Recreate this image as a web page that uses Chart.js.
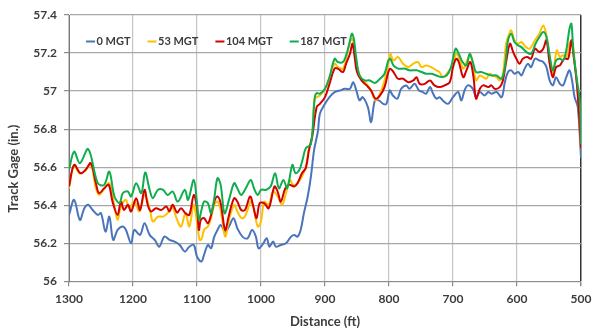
<!DOCTYPE html>
<html><head><meta charset="utf-8">
<script src="https://cdn.jsdelivr.net/npm/chart.js@4.4.1/dist/chart.umd.min.js"></script>
<style>html,body{margin:0;padding:0;background:#fff;}#wrap{width:592px;height:330px;position:relative;}</style>
</head><body><div id="wrap"><canvas id="c"></canvas></div>
<script>
// Series labels
const seriesLabels = ['0 MGT', '53 MGT', '104 MGT', '187 MGT'];
// X tick values (ft) and Y tick values (in.)
const xTicks = [1300, 1200, 1100, 1000, 900, 800, 700, 600, 500];
const yTicks = [56, 56.2, 56.4, 56.6, 56.8, 57, 57.2, 57.4];

// 0 MGT
const dist0 = [1300,1292,1283,1276,1270,1263,1255,1250,1243,1237,1231,1224,1216,1211,1203,1198,1189,1182,1174,1166,1159,1151,1143,1135,1127,1119,1112,1105,1100,1093,1089,1083,1078,1073,1068,1063,1056,1050,1043,1037,1029,1021,1014,1008,1004,998,991,987,981,977,969,961,953,948,943,938,933,927,922,917,911,908,900,893,885,877,869,861,856,851,846,841,833,828,822,816,809,804,799,794,787,781,773,768,760,753,747,742,736,731,726,721,716,708,700,692,687,682,677,669,664,658,651,645,640,632,624,619,614,609,604,598,593,588,583,578,572,565,559,554,549,544,539,533,528,523,518,514,510,505,500];
const gage0 = [56.349,56.428,56.323,56.384,56.402,56.375,56.349,56.358,56.261,56.34,56.218,56.27,56.288,56.27,56.2,56.27,56.244,56.305,56.244,56.218,56.182,56.235,56.218,56.209,56.191,56.156,56.182,56.191,56.13,56.104,56.139,56.191,56.174,56.235,56.27,56.296,56.261,56.288,56.332,56.279,56.235,56.226,56.27,56.235,56.174,56.191,56.226,56.182,56.209,56.182,56.191,56.2,56.235,56.244,56.235,56.27,56.358,56.446,56.551,56.691,56.79,56.881,56.933,56.968,56.995,57.003,57.012,57.012,57.047,57.003,56.951,56.968,56.916,56.837,56.951,56.951,56.933,56.933,57.003,56.977,56.96,57.012,57.03,57.012,57.038,57.003,56.995,56.986,57.021,56.986,56.96,56.968,56.951,56.933,56.968,56.995,56.951,57.003,57.03,57.012,56.968,56.995,56.977,56.995,56.986,56.995,56.968,57.047,57.1,57.109,57.091,57.1,57.082,57.118,57.144,57.126,57.17,57.161,57.153,57.126,57.056,57.03,57.073,57.038,57.03,57.073,57.109,57.056,56.968,56.916,56.65];

// 53 MGT
const dist53 = [1300,1292,1284,1276,1266,1258,1253,1248,1237,1229,1224,1219,1211,1206,1198,1190,1182,1174,1169,1161,1153,1146,1139,1132,1125,1118,1112,1105,1096,1093,1089,1083,1078,1073,1068,1063,1056,1050,1042,1037,1030,1024,1016,1011,1005,1000,995,988,981,974,967,961,955,950,943,936,930,925,920,916,908,900,893,885,880,872,867,861,857,854,850,843,835,828,821,814,807,801,798,793,786,778,770,762,755,749,742,734,726,721,716,708,701,695,690,684,679,673,668,664,658,653,648,643,638,632,627,622,617,613,609,604,598,593,586,580,572,565,559,554,549,544,538,533,528,523,518,514,510,505,500];
const gage53 = [56.489,56.612,56.568,56.577,56.612,56.489,56.454,56.472,56.516,56.393,56.323,56.393,56.428,56.384,56.419,56.367,56.454,56.384,56.314,56.34,56.34,56.358,56.393,56.332,56.288,56.358,56.288,56.402,56.218,56.22,56.27,56.288,56.332,56.402,56.419,56.375,56.235,56.323,56.402,56.367,56.332,56.349,56.419,56.375,56.288,56.314,56.419,56.402,56.472,56.446,56.402,56.463,56.533,56.507,56.516,56.551,56.604,56.7,56.761,56.96,56.977,57.012,57.073,57.144,57.126,57.118,57.17,57.258,57.275,57.214,57.126,57.065,57.038,57.003,56.951,56.986,57.056,57.144,57.196,57.161,57.179,57.144,57.126,57.144,57.153,57.126,57.135,57.126,57.109,57.1,57.073,57.1,57.135,57.196,57.17,57.118,57.153,57.188,57.126,57.056,57.082,57.073,57.065,57.091,57.082,57.073,57.056,57.091,57.249,57.293,57.319,57.267,57.249,57.258,57.231,57.223,57.267,57.302,57.345,57.293,57.179,57.082,57.214,57.179,57.188,57.179,57.249,57.267,57.161,56.986,56.70];

// 104 MGT
const dist104 = [1300,1292,1282,1274,1266,1258,1253,1245,1238,1232,1224,1219,1214,1208,1203,1195,1189,1182,1177,1172,1164,1156,1148,1143,1138,1131,1125,1118,1112,1105,1100,1097,1094,1089,1083,1078,1073,1068,1063,1056,1050,1042,1037,1031,1025,1017,1012,1007,1002,995,988,979,974,969,962,956,948,943,936,930,925,920,913,908,900,893,885,880,872,867,861,857,854,850,843,835,828,821,814,807,801,798,793,786,778,770,762,757,752,744,736,729,721,713,705,700,695,691,684,679,673,668,664,658,653,645,640,635,627,622,617,611,606,601,596,591,584,578,572,565,559,554,549,544,539,533,526,520,515,512,506,500];
const gage104 = [56.498,56.612,56.568,56.586,56.621,56.516,56.463,56.489,56.507,56.419,56.349,56.419,56.375,56.402,56.367,56.437,56.375,56.481,56.402,56.367,56.384,56.375,56.393,56.367,56.402,56.361,56.384,56.358,56.349,56.454,56.384,56.27,56.323,56.332,56.305,56.349,56.419,56.446,56.411,56.27,56.349,56.437,56.419,56.375,56.375,56.446,56.393,56.332,56.411,56.411,56.384,56.498,56.472,56.419,56.489,56.507,56.498,56.516,56.568,56.595,56.691,56.761,56.916,56.933,56.968,57.038,57.118,57.118,57.1,57.144,57.196,57.249,57.188,57.1,57.056,57.03,57.003,56.96,56.977,57.021,57.1,57.118,57.1,57.065,57.065,57.047,57.056,57.073,57.038,57.038,57.056,57.03,57.021,57.03,57.047,57.126,57.17,57.153,57.073,57.109,57.153,57.073,56.96,57.012,57.03,57.021,57.03,57.012,57.021,57.056,57.153,57.249,57.205,57.17,57.144,57.17,57.179,57.17,57.223,57.205,57.223,57.267,57.144,57.073,57.126,57.135,57.17,57.17,57.267,57.196,57.021,56.70];

// 187 MGT
const dist187 = [1300,1292,1283,1270,1255,1245,1237,1229,1221,1216,1208,1203,1195,1187,1181,1174,1169,1161,1153,1146,1138,1130,1119,1114,1105,1100,1097,1093,1089,1083,1078,1073,1068,1063,1057,1050,1042,1037,1031,1025,1016,1011,1005,1000,992,985,978,972,965,959,951,946,940,935,930,922,916,913,908,900,893,885,880,872,867,862,858,855,851,846,838,830,822,814,807,801,798,793,786,775,768,757,749,742,734,726,718,710,703,696,691,685,679,674,669,664,656,648,640,632,624,619,614,609,604,598,593,585,578,571,565,559,554,549,544,539,533,528,523,518,515,512,507,502,500];
const gage187 = [56.586,56.682,56.621,56.695,56.516,56.507,56.577,56.446,56.411,56.463,56.472,56.446,56.516,56.463,56.572,56.481,56.437,56.481,56.481,56.454,56.472,56.419,56.481,56.428,56.533,56.411,56.323,56.375,56.419,56.411,56.358,56.437,56.542,56.507,56.358,56.428,56.516,56.489,56.454,56.481,56.533,56.489,56.454,56.481,56.481,56.498,56.568,56.489,56.533,56.489,56.612,56.568,56.586,56.639,56.7,56.72,56.968,56.989,56.986,57.012,57.073,57.17,57.153,57.153,57.188,57.249,57.302,57.275,57.17,57.082,57.056,57.056,57.042,57.065,57.091,57.161,57.17,57.135,57.118,57.118,57.109,57.109,57.1,57.091,57.091,57.082,57.074,57.082,57.126,57.223,57.196,57.153,57.135,57.196,57.153,57.1,57.1,57.091,57.082,57.082,57.065,57.126,57.267,57.302,57.258,57.24,57.231,57.205,57.196,57.249,57.284,57.31,57.284,57.188,57.109,57.161,57.17,57.161,57.214,57.328,57.354,57.214,57.073,56.951,56.72];

const seriesColors = ['#4a74bb', '#ffc000', '#d40000', '#10ad4e'];

function pts(xs, ys) { return xs.map((x, i) => ({x: x, y: ys[i]})); }

const FONT = 'Lato';
Chart.defaults.font.family = FONT;
Chart.defaults.color = '#3c3c3c';

// pad the rotated y title with trailing spaces so it sits ~20px below the axis centre
const yTitleText = 'Track Gage (in.)';
const mctx = document.createElement('canvas').getContext('2d');
mctx.font = 'bold 13px ' + FONT;
const nSpaces = Math.max(0, Math.round(40 / mctx.measureText(' ').width));
const yTitlePadded = yTitleText + ' '.repeat(nSpaces);

const insideLegend = {
  id: 'insideLegend',
  afterDraw(chart) {
    const {ctx, chartArea} = chart;
    ctx.save();
    ctx.font = 'bold 11px ' + FONT;
    ctx.textBaseline = 'middle';
    let x = chartArea.left + 17;
    const y = chartArea.top + 26.5;
    chart.data.datasets.forEach(ds => {
      ctx.strokeStyle = ds.borderColor;
      ctx.lineWidth = 2;
      ctx.beginPath(); ctx.moveTo(x, y); ctx.lineTo(x + 9, y); ctx.stroke();
      x += 10.5;
      ctx.fillStyle = '#3c3c3c';
      ctx.fillText(ds.label, x, y);
      x += ctx.measureText(ds.label).width + 17;
    });
    ctx.restore();
  }
};

const dists = [dist0, dist53, dist104, dist187];
const gages = [gage0, gage53, gage104, gage187];

new Chart(document.getElementById('c'), {
  type: 'line',
  data: {
    datasets: seriesLabels.map((lab, i) => ({
      label: lab,
      data: pts(dists[i], gages[i]),
      borderColor: seriesColors[i],
      backgroundColor: seriesColors[i],
      order: 4 - i
    }))
  },
  options: {
    responsive: true,
    maintainAspectRatio: false,
    animation: false,
    layout: {padding: {top: 15, right: 11, left: 0, bottom: 0}},
    elements: {point: {radius: 0}, line: {borderWidth: 2, tension: 0.35}},
    plugins: {legend: {display: false}, tooltip: {enabled: false}},
    scales: {
      x: {
        type: 'linear', min: 500, max: 1300, reverse: true,
        afterFit(s) { s.height = 48.7; s.paddingRight = 0; },
        afterBuildTicks(s) { s.ticks = xTicks.map(v => ({value: v})); },
        ticks: {
          padding: 6, color: '#3c3c3c',
          font: {size: 12, weight: 'bold'},
          callback: v => String(v)
        },
        grid: {
          color: c => (c.tick && c.tick.value === 500) ? '#333333' : '#c4c4c4',
          lineWidth: c => (c.tick && c.tick.value === 500) ? 1.5 : 1.2,
          tickLength: 5, tickColor: '#8c8c8c'
        },
        border: {display: true, color: '#8c8c8c', width: 1},
        title: {display: true, text: 'Distance (ft)', color: '#3c3c3c',
          font: {size: 13, weight: 'bold'}, padding: {top: 0, bottom: 0}}
      },
      y: {
        min: 56, max: 57.4,
        afterFit(s) { s.width = 69; },
        afterBuildTicks(s) { s.ticks = yTicks.map(v => ({value: v})); },
        ticks: {
          padding: 7, color: '#3c3c3c',
          font: {size: 12, weight: 'bold'},
          callback: v => String(Number(v.toFixed(1)))
        },
        grid: {color: '#a8a8a8', lineWidth: 1.2, tickLength: 5, tickColor: '#8c8c8c'},
        border: {display: true, color: '#7a7a7a', width: 1},
        title: {display: true, text: yTitlePadded, color: '#3c3c3c',
          font: {size: 13, weight: 'bold'}, padding: {top: 6, bottom: 0}}
      }
    }
  },
  plugins: [insideLegend]
});
</script>
</body></html>
